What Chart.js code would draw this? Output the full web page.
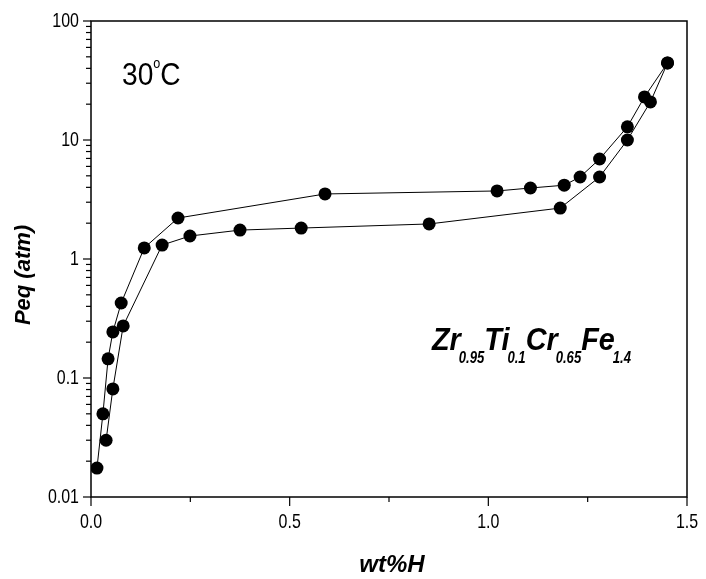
<!DOCTYPE html>
<html>
	<head>
		<meta charset="UTF-8">
		<title>Zr0.95Ti0.1Cr0.65Fe1.4 PCT 30°C</title>
		<style>
			body { margin: 0; background: #fff; }
		</style>
	</head>
	<body>
		<canvas id="myChart" width="706" height="579"></canvas>
	</body>
	<script src="https://cdn.jsdelivr.net/npm/chart.js@4/dist/chart.umd.min.js"></script>
	<script>
		// 吸氢曲线 (上)
		var absX = [0.015, 0.030, 0.043, 0.055, 0.076, 0.134, 0.219, 0.589, 1.022, 1.106, 1.191, 1.231, 1.280, 1.350, 1.393, 1.451];
		var absY = [0.0175, 0.050, 0.145, 0.244, 0.427, 1.24, 2.21, 3.52, 3.73, 3.95, 4.17, 4.89, 6.92, 12.9, 23.0, 44.4];
		// 放氢曲线 (下)
		var desX = [1.451, 1.408, 1.350, 1.280, 1.181, 0.851, 0.529, 0.375, 0.249, 0.179, 0.081, 0.055, 0.038];
		var desY = [44.4, 20.9, 10.0, 4.89, 2.68, 1.97, 1.82, 1.75, 1.56, 1.31, 0.274, 0.081, 0.030];

		var xTicks = [0.0, 0.5, 1.0, 1.5];
		var xTickLabels = ["0.0", "0.5", "1.0", "1.5"];
		var xMinorTicks = [0.25, 0.75, 1.25];
		var yTicks = [0.01, 0.1, 1, 10, 100];
		var yTickLabels = ["0.01", "0.1", "1", "10", "100"];

		function toPoints(xs, ys) {
			var pts = [];
			for (var i = 0; i < xs.length; i++) {
				pts.push({ x: xs[i], y: ys[i] });
			}
			return pts;
		}

		// 横向压缩的文字
		function txt(ctx, s, x, y, font, align, sx) {
			ctx.save();
			ctx.font = font;
			ctx.textBaseline = "middle";
			var w = ctx.measureText(s).width * sx;
			var x0 = x;
			if (align == "center") x0 = x - w / 2;
			if (align == "right") x0 = x - w;
			ctx.translate(x0, y);
			ctx.scale(sx, 1);
			ctx.textAlign = "left";
			ctx.fillText(s, 0, 0);
			ctx.restore();
			return w;
		}

		var frame = {
			id: "frame",
			afterDraw: function(chart) {
				var ctx = chart.ctx;
				var a = chart.chartArea;
				var xs = chart.scales.x, ys = chart.scales.y;
				ctx.save();
				ctx.strokeStyle = "#000";
				ctx.fillStyle = "#000";
				ctx.lineWidth = 1.5;
				ctx.strokeRect(a.left, a.top, a.right - a.left, a.bottom - a.top);

				// y 轴刻度
				ctx.lineWidth = 1.2;
				for (var d = 0; d < yTicks.length; d++) {
					var py = ys.getPixelForValue(yTicks[d]);
					ctx.beginPath(); ctx.moveTo(a.left - 8, py); ctx.lineTo(a.left, py); ctx.stroke();
					txt(ctx, yTickLabels[d], a.left - 12, py, "21px 'Liberation Sans', Arial", "right", 0.76);
					if (d < yTicks.length - 1) {
						for (var m = 2; m < 10; m++) {
							var pm = ys.getPixelForValue(yTicks[d] * m);
							ctx.beginPath(); ctx.moveTo(a.left - 5, pm); ctx.lineTo(a.left, pm); ctx.stroke();
						}
					}
				}
				// x 轴刻度
				for (var i = 0; i < xTicks.length; i++) {
					var px = xs.getPixelForValue(xTicks[i]);
					ctx.beginPath(); ctx.moveTo(px, a.bottom); ctx.lineTo(px, a.bottom + 9); ctx.stroke();
					txt(ctx, xTickLabels[i], px, a.bottom + 25, "21px 'Liberation Sans', Arial", "center", 0.76);
				}
				for (var j = 0; j < xMinorTicks.length; j++) {
					var pn = xs.getPixelForValue(xMinorTicks[j]);
					ctx.beginPath(); ctx.moveTo(pn, a.bottom); ctx.lineTo(pn, a.bottom + 5); ctx.stroke();
				}

				// 轴标题
				txt(ctx, "wt%H", (a.left + a.right) / 2 + 3, 565, "italic bold 24px 'Liberation Sans', Arial", "center", 1.0);
				ctx.save();
				ctx.translate(24, 275);
				ctx.rotate(-Math.PI / 2);
				txt(ctx, "Peq (atm)", 0, 0, "italic bold 22px 'Liberation Sans', Arial", "center", 1.0);
				ctx.restore();

				// 温度
				var w1 = txt(ctx, "30", 122, 76, "32px 'Liberation Sans', Arial", "left", 0.88);
				var w2 = txt(ctx, "o", 122 + w1, 64, "14px 'Liberation Sans', Arial", "left", 0.9);
				txt(ctx, "C", 122 + w1 + w2, 76, "32px 'Liberation Sans', Arial", "left", 0.88);

				// 合金组成
				var parts = [["Zr", "0.95"], ["Ti", "0.1"], ["Cr", "0.65"], ["Fe", "1.4"]];
				var fx = 432;
				var big = "italic bold 32px 'Liberation Sans', Arial";
				var sub = "italic bold 16px 'Liberation Sans', Arial";
				for (var k = 0; k < parts.length; k++) {
					fx += txt(ctx, parts[k][0], fx, 341, big, "left", 0.9) - 2;
					fx += txt(ctx, parts[k][1], fx, 359, sub, "left", 0.82);
				}
				ctx.restore();
			}
		};

		var ctx = document.getElementById("myChart").getContext("2d");
		var myChart = new Chart(ctx, {
			type: "scatter",
			data: {
				datasets: [{
					label: "absorption",
					data: toPoints(absX, absY),
					showLine: true,
					borderColor: "#000",
					borderWidth: 1,
					backgroundColor: "#000",
					pointRadius: 6.5,
					pointBorderWidth: 0
				}, {
					label: "desorption",
					data: toPoints(desX, desY),
					showLine: true,
					borderColor: "#000",
					borderWidth: 1,
					backgroundColor: "#000",
					pointRadius: 6.5,
					pointBorderWidth: 0
				}]
			},
			options: {
				responsive: false,
				animation: false,
				layout: { padding: { left: 91, right: 19, top: 21, bottom: 82 } },
				plugins: { legend: { display: false }, tooltip: { enabled: false } },
				scales: {
					x: { type: "linear", min: 0, max: 1.5, display: false },
					y: { type: "logarithmic", min: 0.01, max: 100, display: false }
				}
			},
			plugins: [frame]
		});
	</script>
</html>
